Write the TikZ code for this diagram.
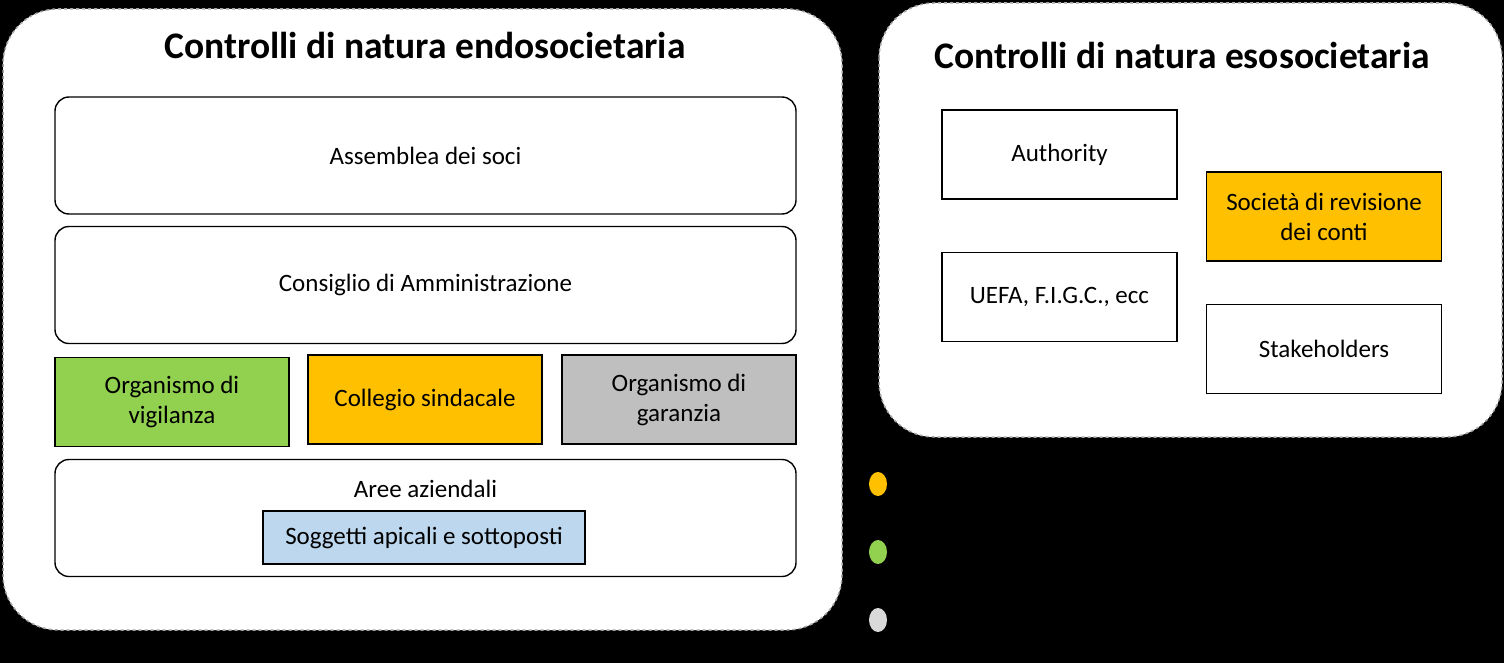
\documentclass[tikz,border=0pt]{standalone}
\usepackage{fontspec}
\setmainfont{Carlito}
\usetikzlibrary{positioning, shapes.geometric}

\definecolor{vgreen}{HTML}{92D050}
\definecolor{vorange}{HTML}{FFC000}
\definecolor{vgray}{HTML}{BFBFBF}
\definecolor{vblue}{HTML}{BDD7EE}
\definecolor{vdot}{HTML}{D9D9D9}

\begin{document}
\begin{tikzpicture}[
  x=1pt, y=-1pt,
  every node/.style={font=\fontsize{25}{30}\selectfont},
  group/.style={draw=gray!70, dashed, line width=1.5pt, fill=white, rounded corners=55pt},
  title/.style={font=\fontsize{37.5}{42}\selectfont\bfseries},
  band/.style={draw=black, line width=1.4pt, fill=white, rounded corners=14pt, minimum width=741pt, minimum height=117pt, inner sep=0pt},
  organ/.style={draw=black, line width=1.4pt, minimum width=234pt, minimum height=89pt, inner sep=0pt, align=center},
  ext/.style={draw=black, line width=1.4pt, fill=white, minimum width=235pt, minimum height=89pt, inner sep=0pt, align=center},
  dot/.style={ellipse, minimum width=18pt, minimum height=24pt, inner sep=0pt}
]
\useasboundingbox (0,0) rectangle (1504,663);
\fill[black] (0,0) rectangle (1504,663);

% contenitori
\draw[group] (3,9) rectangle (842,630);
\draw[group] (879,3) rectangle (1502,437);

% controlli endosocietari
\node[title] (tendo) at (425,45) {Controlli di natura endosocietaria};
\node[band] (assemblea) at (425.5,155.5) {Assemblea dei soci};
\node[band] (cda) at (425.5,285) {Consiglio di Amministrazione};
\node[organ, fill=vgreen] (odv) at (172,402) {Organismo di\\vigilanza};
\node[organ, fill=vorange] (collegio) at (425,399.5) {Collegio sindacale};
\node[organ, fill=vgray] (garanzia) at (679,399.5) {Organismo di\\garanzia};
\node[band] (aree) at (425.5,518) {};
\node (areelbl) at (425.5,489) {Aree aziendali};
\node[draw=black, line width=1.4pt, fill=vblue, minimum width=322pt, minimum height=53pt, inner sep=0pt] (soggetti) at (424,537.5) {Soggetti apicali e sottoposti};

% controlli esosocietari
\node[title] (teso) at (1182,55) {Controlli di natura esosocietaria};
\node[ext] (authority) at (1059.5,154.5) {Authority};
\node[ext] (uefa) at (1059.5,297) {UEFA, F.I.G.C., ecc};
\node[ext, fill=vorange] (revisione) at (1324,216.5) {Società di revisione\\dei conti};
\node[ext] (stake) at (1324,349) {Stakeholders};

% legenda
\node[dot, fill=vorange] (d1) at (878,484) {};
\node[dot, fill=vgreen] (d2) at (878,552) {};
\node[dot, fill=vdot] (d3) at (878,620) {};

\end{tikzpicture}
\end{document}
